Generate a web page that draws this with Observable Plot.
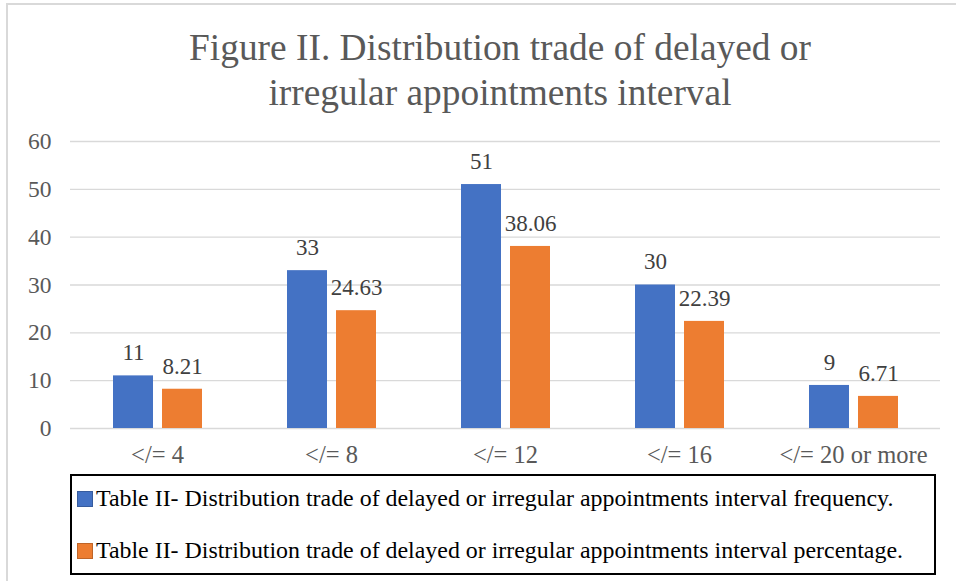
<!DOCTYPE html>
<html>
<head>
<meta charset="utf-8">
<script src="https://cdn.jsdelivr.net/npm/d3@7"></script>
<script src="https://cdn.jsdelivr.net/npm/@observablehq/plot@0.6"></script>
<style>
  html, body { margin: 0; padding: 0; background: #fff; }
  #wrap { position: relative; width: 956px; height: 581px; overflow: hidden; font-family: "Liberation Serif", "Times New Roman", serif; }
  #frame { position: absolute; left: 6px; top: 3px; width: 1000px; height: 700px; border-left: 2px solid #d9d9d9; border-top: 2px solid #d9d9d9; }
  #title { position: absolute; left: 22px; top: 25px; width: 956px; text-align: center; font-size: 37.4px; line-height: 45px; color: #595959; }
  #chart { position: absolute; left: 0; top: 120px; }
  #legend { position: absolute; left: 70px; top: 474px; width: 862px; height: 97px; border: 2px solid #000; box-sizing: content-box; }
  .item { position: absolute; left: 5px; font-size: 23.9px; color: #000; white-space: nowrap; display: flex; align-items: center; }
  .sw { display: inline-block; width: 16px; height: 16px; margin-right: 3px; box-sizing: border-box; }
</style>
</head>
<body>
<div id="wrap">
  <div id="frame"></div>
  <div id="title">Figure II. Distribution trade of delayed or<br>irregular appointments interval</div>
  <div id="chart"></div>
  <div id="legend"></div>
</div>
<script>
const categories = ["</= 4", "</= 8", "</= 12", "</= 16", "</= 20 or more"];
const seriesNames = [
  "Table II- Distribution trade of delayed or irregular appointments interval frequency.",
  "Table II- Distribution trade of delayed or irregular appointments interval percentage."
];
const frequency = [11, 33, 51, 30, 9];
const percentage = [8.21, 24.63, 38.06, 22.39, 6.71];
const colors = ["#4472C4", "#ED7D31"];
const yTicks = [0, 10, 20, 30, 40, 50, 60];

const data = [];
categories.forEach((c, i) => {
  data.push({cat: c, series: seriesNames[0], value: frequency[i], label: String(frequency[i])});
  data.push({cat: c, series: seriesNames[1], value: percentage[i], label: percentage[i].toFixed(2)});
});

const chart = Plot.plot({
  width: 956,
  height: 348,
  marginLeft: 70,
  marginRight: 16,
  marginTop: 21,
  marginBottom: 40,
  style: {fontFamily: "Liberation Serif, Times New Roman, serif", background: "transparent"},
  fx: {domain: categories, padding: 0, label: null},
  x: {domain: seriesNames, paddingInner: 0.184, paddingOuter: 0.867, axis: null},
  y: {domain: [0, 60], label: null},
  color: {domain: seriesNames, range: colors},
  marks: [
    Plot.gridY(yTicks, {stroke: "#d9d9d9", strokeOpacity: 1, strokeWidth: 1.3}),
    Plot.axisY(yTicks, {tickSize: 0, tickPadding: 19, fontSize: 23.5, fill: "#595959", label: null}),
    Plot.axisFx({anchor: "bottom", tickSize: 0, tickPadding: 17, fontSize: 24.5, fill: "#595959", label: null}),
    Plot.barY(data, {fx: "cat", x: "series", y: "value", fill: "series"}),
    Plot.text(data, {fx: "cat", x: "series", y: "value", text: "label", dy: -23, fontSize: 23, fill: "#404040"})
  ]
});
document.getElementById("chart").appendChild(chart);

const legend = document.getElementById("legend");
const tops = [9, 61];
seriesNames.forEach((s, i) => {
  const it = document.createElement("div");
  it.className = "item";
  it.style.top = tops[i] + "px";
  const sw = document.createElement("span");
  sw.className = "sw";
  sw.style.background = colors[i];
  sw.style.border = "1.5px solid " + d3.color(colors[i]).darker(0.6);
  it.appendChild(sw);
  it.appendChild(document.createTextNode(s));
  legend.appendChild(it);
});
</script>
</body>
</html>
